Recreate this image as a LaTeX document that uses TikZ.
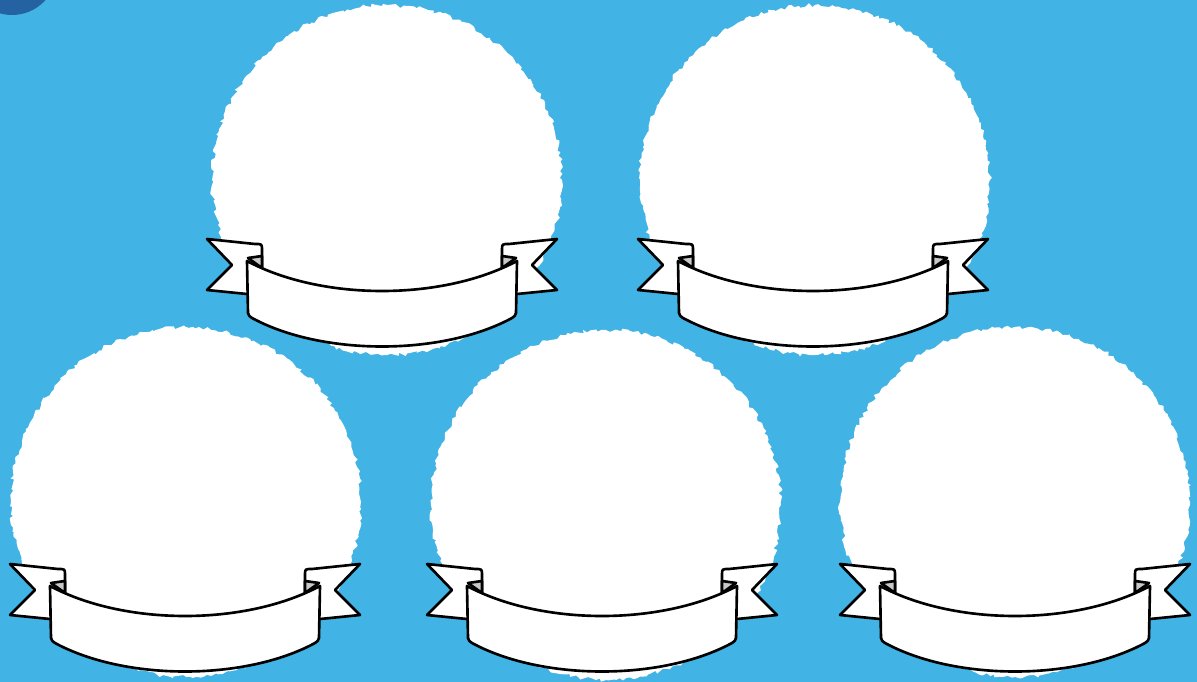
\documentclass[tikz,border=0pt]{standalone}
\usepackage{tikz}
\usetikzlibrary{decorations.pathmorphing}
\usepackage{xcolor}
\definecolor{sky}{HTML}{42B3E5}
\definecolor{deepblue}{HTML}{2462A2}
\definecolor{foldgrey}{HTML}{C8C8C8}

\begin{document}
\begin{tikzpicture}[
    x=0.02cm, y=-0.02cm,
    blob/.style={circle, fill=white, inner sep=0pt, minimum size=7cm,
                 decorate, decoration={random steps, segment length=2pt, amplitude=1.2pt}},
    edge/.style={draw=black, fill=white, line width=1.5pt, line join=round},
    fold/.style={edge, fill=foldgrey},
    ribbon/.pic={
        \foreach \s in {-1,1} {
            \draw[edge] (\s*175,59) -- (\s*127,64) .. controls (\s*120,64) .. (\s*120,70)
                -- (\s*120,114) -- (\s*135,114) -- (\s*175,110) -- (\s*150,85) -- cycle;
            \draw[fold] (\s*134,78) -- (\s*120,76) -- (\s*120,88) -- cycle;
        }
        \draw[edge] (-135,81) .. controls (-60,121) and (60,121) .. (135,81)
            -- (134,133) .. controls (133,136) .. (130,138)
            .. controls (60,176) and (-60,176) .. (-130,138)
            .. controls (-133,136) .. (-134,133) -- cycle;
    }
]
\useasboundingbox (0,0) rectangle (1197,682);
\clip (0,0) rectangle (1197,682);
\fill[sky] (0,0) rectangle (1197,682);
\node[circle, fill=deepblue, inner sep=0pt, minimum size=1.8cm] (dot) at (12,-30) {};

% top row
\node[blob] (tl) at (387,180) {};
\node[blob] (tr) at (815,180) {};
% bottom row
\node[blob] (bl) at (186,502) {};
\node[blob] (bm) at (606,505) {};
\node[blob] (br) at (1015,502) {};

\pic at (382,180) {ribbon};
\pic at (813,180) {ribbon};
\pic at (185,505) {ribbon};
\pic at (602,505) {ribbon};
\pic at (1015,505) {ribbon};
\end{tikzpicture}
\end{document}
